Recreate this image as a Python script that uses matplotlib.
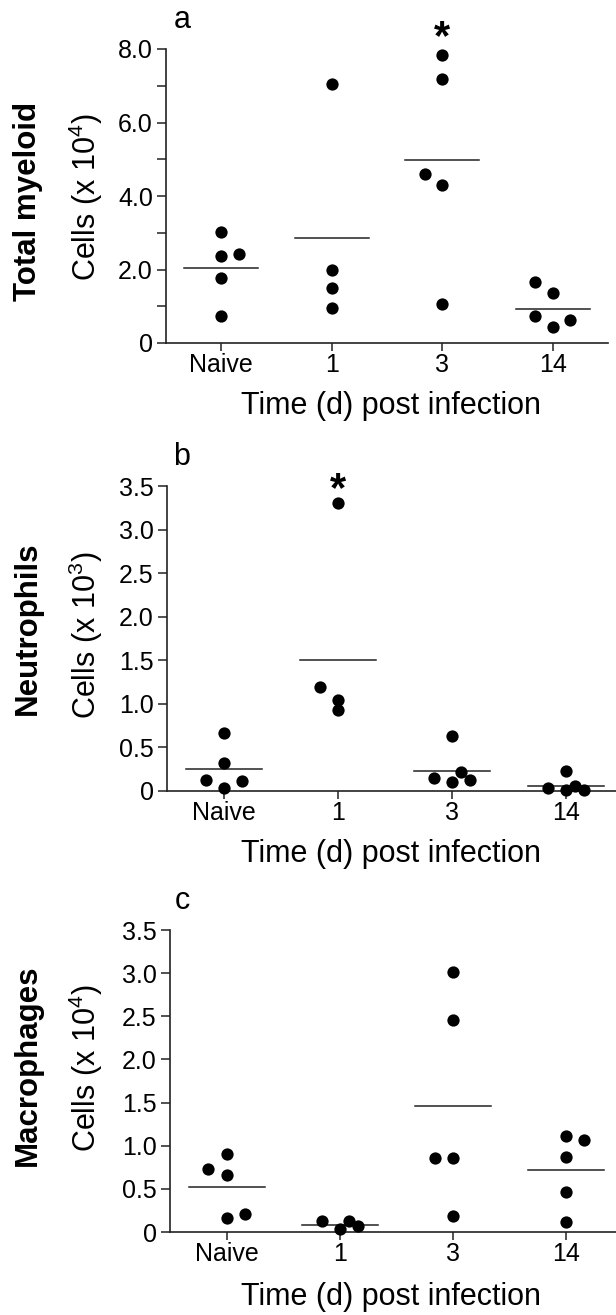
import numpy as np
import matplotlib
matplotlib.use('Agg')
import matplotlib.pyplot as plt
from matplotlib.ticker import FixedLocator, FixedFormatter

plt.rcParams['font.family'] = ['Liberation Sans', 'DejaVu Sans']
plt.rcParams['mathtext.fontset'] = 'custom'
plt.rcParams['mathtext.rm'] = 'Liberation Sans'

W, H = 616, 1315

groups = ['Naive', '1', '3', '14']

# panel a - total myeloid (x 10^4)
myeloid = [[3.02, 2.42, 2.36, 1.77, 0.74],
           [7.05, 2.00, 1.51, 0.94],
           [7.83, 7.18, 4.59, 4.30, 1.06],
           [1.67, 1.35, 0.73, 0.62, 0.43]]
myeloid_jit = [[0, .16, 0, 0, 0],
               [0, 0, 0, 0],
               [0, 0, -.16, 0, 0],
               [-.16, 0, -.16, .16, 0]]
myeloid_mean = [2.04, 2.86, 4.97, 0.93]

# panel b - neutrophils (x 10^3)
neutro = [[0.67, 0.32, 0.13, 0.12, 0.03],
          [3.31, 1.19, 1.05, 0.93],
          [0.63, 0.215, 0.146, 0.10, 0.123],
          [0.227, 0.04, 0.06, 0.01, 0.01]]
neutro_jit = [[0, 0, -.16, .16, 0],
              [0, -.16, 0, 0],
              [0, .08, -.16, 0, .16],
              [0, -.16, .08, 0, .16]]
neutro_mean = [0.25, 1.50, 0.23, 0.06]

# panel c - macrophages (x 10^4)
macro = [[0.90, 0.735, 0.666, 0.163, 0.213],
         [0.132, 0.035, 0.132, 0.066],
         [3.01, 2.455, 0.863, 0.863, 0.182],
         [1.111, 1.072, 0.875, 0.468, 0.112]]
macro_jit = [[0, -.16, 0, 0, .16],
             [-.16, 0, .08, .16],
             [0, 0, -.16, 0, 0],
             [0, .16, 0, 0, 0]]
macro_mean = [0.527, 0.081, 1.463, 0.716]

panels = [
    dict(letter='a', name='Total myeloid', unit='4', vals=myeloid, jit=myeloid_jit, mean=myeloid_mean,
         ymax=8.0, major=[0, 2, 4, 6, 8], labels=['0', '2.0', '4.0', '6.0', '8.0'], minor=[1, 3, 5, 7],
         star=(2, 8.0), box=(166, 49, 608, 343), xmax=3.5, ylab_y=197, name_y=201, xlab_y=406),
    dict(letter='b', name='Neutrophils', unit='3', vals=neutro, jit=neutro_jit, mean=neutro_mean,
         ymax=3.5, major=[0, .5, 1, 1.5, 2, 2.5, 3, 3.5],
         labels=['0', '0.5', '1.0', '1.5', '2.0', '2.5', '3.0', '3.5'], minor=[],
         star=(1, 3.33), box=(167, 486, 616, 791), xmax=3.44, ylab_y=635, name_y=628, xlab_y=854),
    dict(letter='c', name='Macrophages', unit='4', vals=macro, jit=macro_jit, mean=macro_mean,
         ymax=3.5, major=[0, .5, 1, 1.5, 2, 2.5, 3, 3.5],
         labels=['0', '0.5', '1.0', '1.5', '2.0', '2.5', '3.0', '3.5'], minor=[],
         star=None, box=(170, 930, 616, 1232), xmax=3.44, ylab_y=1068, name_y=1065, xlab_y=1297),
]

fig = plt.figure(figsize=(W / 100, H / 100), dpi=100)

for p in panels:
    x0, y0, x1, y1 = p['box']
    ax = fig.add_axes([x0 / W, 1 - y1 / H, (x1 - x0) / W, (y1 - y0) / H])
    for i, (v, j) in enumerate(zip(p['vals'], p['jit'])):
        ax.scatter(i + np.array(j), v, s=78, color='black', zorder=3, clip_on=False, linewidths=0)
        ax.plot([i - .335, i + .335], [p['mean'][i]] * 2, color='#222222', lw=1.1)
    ax.set_xlim(-0.5, p['xmax'])
    ax.set_ylim(0, p['ymax'])
    ax.set_xticks(range(len(groups)))
    ax.set_xticklabels(groups)
    ax.yaxis.set_major_locator(FixedLocator(p['major']))
    ax.yaxis.set_major_formatter(FixedFormatter(p['labels']))
    if p['minor']:
        ax.yaxis.set_minor_locator(FixedLocator(p['minor']))
    ax.tick_params(which='both', direction='out', width=1.1, labelsize=18, color='#222222')
    ax.tick_params(axis='y', which='both', length=6.5, pad=3)
    ax.tick_params(axis='x', length=5.5, pad=1.5)
    for s in ['top', 'right']:
        ax.spines[s].set_visible(False)
    for s in ['left', 'bottom']:
        ax.spines[s].set_linewidth(1.2)
        ax.spines[s].set_color('#222222')
    if p['star']:
        ax.text(p['star'][0], p['star'][1], '*', ha='center', va='baseline', fontsize=30,
                fontweight='bold', clip_on=False)
    fig.text(182 / W, 1 - (y0 - 29) / H, p['letter'], fontsize=22, ha='center', va='center')
    fig.text(86 / W, 1 - p['ylab_y'] / H, 'Cells (x 10$^{\\mathregular{' + p['unit'] + '}}$)',
             rotation=90, fontsize=22, ha='center', va='center')
    fig.text(28 / W, 1 - p['name_y'] / H, p['name'], rotation=90, fontsize=22.5, fontweight='bold',
             ha='center', va='center')
    fig.text(391 / W, 1 - p['xlab_y'] / H, 'Time (d) post infection', fontsize=22,
             ha='center', va='center')

fig.savefig('out.png', dpi=100)
